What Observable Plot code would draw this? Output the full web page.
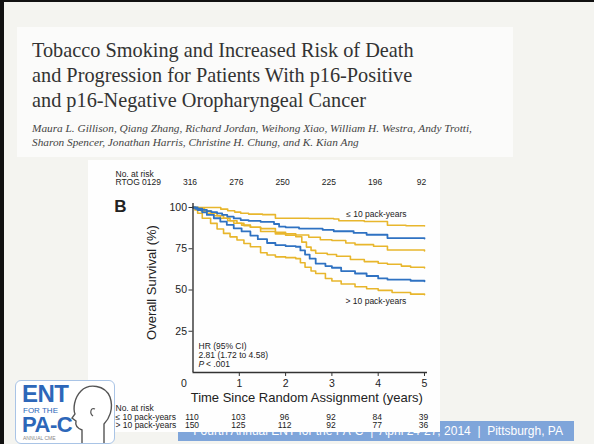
<!DOCTYPE html>
<html>
<head>
<meta charset="utf-8">
<script src="https://cdn.jsdelivr.net/npm/d3@7"></script>
<script src="https://cdn.jsdelivr.net/npm/@observablehq/plot@0.6"></script>
<style>
  html, body { margin: 0; padding: 0; }
  body { width: 594px; height: 444px; position: relative; overflow: hidden; background: #f4f4f0; font-family: "Liberation Sans", Arial, sans-serif; }
  .abs { position: absolute; }
  #title { left: 32px; top: 38px; font-family: "Liberation Serif", "Times New Roman", serif; font-size: 20.3px; line-height: 25px; color: #333; white-space: nowrap; }
  #authors { left: 32px; top: 121px; font-family: "Liberation Serif", "Times New Roman", serif; font-style: italic; font-size: 11.3px; line-height: 14px; color: #444; white-space: nowrap; }
  #footer { left: 178px; top: 421px; width: 396px; height: 20px; background: #7fa5da; }
  #footerText { right: 31px; top: 423px; color: #fff; font-size: 12px; line-height: 16px; white-space: nowrap; }
  #chartPanel { left: 88px; top: 160px; width: 352px; height: 272px; background: #fefefe; }
  #chart { left: 90px; top: 160px; }
  #logo { left: 15px; top: 380px; width: 98px; height: 62px; background: #fff; border: 1.5px solid #a9c4e6; border-radius: 6px; }
</style>
</head>
<body>
<div class="abs" style="left:0;top:0;width:4px;height:444px;background:#111"></div>
<div class="abs" style="left:0;top:0;width:594px;height:2px;background:#111"></div>
<div class="abs" style="left:17px;top:27px;width:496px;height:130px;background:#fbfbfa"></div>
<div id="title" class="abs">Tobacco Smoking and Increased Risk of Death<br>and Progression for Patients With p16-Positive<br>and p16-Negative Oropharyngeal Cancer</div>
<div id="authors" class="abs">Maura L. Gillison, Qiang Zhang, Richard Jordan, Weihong Xiao, William H. Westra, Andy Trotti,<br>Sharon Spencer, Jonathan Harris, Christine H. Chung, and K. Kian Ang</div>
<div id="footer" class="abs"></div>
<div id="footerText" class="abs">Fourth Annual ENT for the PA-C &nbsp;|&nbsp; April 24-27, 2014 &nbsp;|&nbsp; Pittsburgh, PA</div>
<div id="chartPanel" class="abs"></div>
<div id="chart" class="abs"></div>
<div id="logo" class="abs">
  <div class="abs" style="left:6px;top:1px;font:bold 24px/24px 'Liberation Sans',Arial,sans-serif;color:#2d67b9;letter-spacing:-0.5px">ENT</div>
  <div class="abs" style="left:7px;top:25px;font:8px/9px 'Liberation Sans',Arial,sans-serif;color:#2d67b9">FOR THE</div>
  <div class="abs" style="left:6px;top:33px;font:bold 22px/22px 'Liberation Sans',Arial,sans-serif;color:#2d67b9;letter-spacing:-0.5px">PA-C</div>
  <div class="abs" style="left:7px;top:54px;font:5px/6px 'Liberation Sans',Arial,sans-serif;color:#888">ANNUAL CME</div>
  <svg class="abs" style="left:54px;top:2px" width="44" height="60" viewBox="0 0 44 60">
    <path d="M12,60 L12,47 C7,45 5,42 6,38 L2,35 L5,31 C3,26 4,15 11,8 C19,0 35,2 40,14 C44,26 39,36 34,41 L34,60" fill="none" stroke="#555" stroke-width="1.4"/>
    <path d="M25,26 C21,24 19,30 23,33" fill="none" stroke="#555" stroke-width="1.2"/>
  </svg>
</div>
<script>
// ---- data ----
const years = [0, 1, 2, 3, 4, 5];
const riskRTOG = [316, 276, 250, 225, 196, 92];
const riskLe10 = [110, 103, 96, 92, 84, 39];
const riskGt10 = [150, 125, 112, 92, 77, 36];
const yTicks = [25, 50, 75, 100];
const xTicks = [1, 2, 3, 4, 5];

// <= 10 pack-years: survival and 95% CI bounds
const le10Upper = [[0,100],[0.5,100],[0.6,99],[0.75,98],[0.9,97.2],[1.03,96.5],[1.2,96],[1.5,95.7],[1.78,93.5],[2.5,93.3],[3.04,93],[3.15,92],[3.7,91.5],[4.2,89.2],[4.6,88.9],[5,88.8]];
const le10Surv  = [[0,100],[0.1,99.3],[0.2,98.6],[0.3,97.8],[0.4,97.2],[0.52,96.5],[0.63,95.5],[0.74,94.5],[0.88,93.4],[1.03,92.4],[1.2,91.9],[1.46,91.3],[1.75,90],[1.86,88.4],[2.0,88],[2.29,87.2],[2.8,86.5],[3.04,85.6],[3.47,84.6],[3.75,83.5],[4.2,81.5],[5,81.2]];
const le10Lower = [[0,100],[0.08,99],[0.18,97.8],[0.3,96.5],[0.45,95],[0.59,93.5],[0.75,92],[0.88,90.5],[1.05,89.3],[1.24,88],[1.46,87.2],[1.78,85],[2.0,84],[2.22,83.3],[2.5,82],[2.75,80.5],[3.0,80],[3.3,78.5],[3.5,77.5],[3.9,76.5],[4.2,74.2],[5,73.6]];
// > 10 pack-years
const gt10Upper = [[0,100],[0.12,99.2],[0.25,98],[0.38,96.5],[0.52,95],[0.66,93.5],[0.8,92],[0.95,90.5],[1.1,89],[1.24,88],[1.46,85.5],[1.78,84],[2.0,83.2],[2.22,82.3],[2.35,79],[2.45,76],[2.55,74],[2.65,72.3],[2.9,71.5],[3.1,70.5],[3.4,68.5],[3.7,67.2],[4.0,66.2],[4.2,65.6],[4.5,64.5],[4.7,63.8],[5,63.4]];
const gt10Surv  = [[0,100],[0.05,99.2],[0.1,98.5],[0.2,97],[0.3,95.5],[0.45,93.5],[0.59,91.5],[0.73,89.5],[0.88,87.4],[1.05,85.5],[1.24,83],[1.4,80.8],[1.6,78.5],[1.78,77.2],[2.0,76.6],[2.22,76.2],[2.32,74],[2.42,71.5],[2.52,69],[2.65,66],[2.86,64.5],[3.0,63.5],[3.2,61.5],[3.5,60],[3.75,58.5],[4.0,57],[4.2,56.3],[4.7,55.6],[5,55.3]];
const gt10Lower = [[0,100],[0.04,98.5],[0.1,96.5],[0.2,93.5],[0.38,90.4],[0.52,87],[0.66,84.3],[0.8,82.2],[0.95,80.3],[1.1,78.2],[1.24,76.2],[1.46,72.6],[1.6,71.2],[1.78,70.1],[2.0,69.6],[2.22,69],[2.32,66.5],[2.42,63.8],[2.55,61.5],[2.65,60],[2.86,57],[3.0,55.5],[3.2,53.6],[3.5,52],[3.75,50.8],[4.0,49.8],[4.3,48.5],[4.7,47.5],[5,47.1]];

const BLUE = "#2f72c2";
const YELLOW = "#e8b62c";
const INK = "#222";

const toRows = (arr, id) => arr.map(([t, v]) => ({t, v, id}));
const yellowRows = [...toRows(le10Upper, "a"), ...toRows(le10Lower, "b"), ...toRows(gt10Upper, "c"), ...toRows(gt10Lower, "d")];
const blueRows = [...toRows(le10Surv, "e"), ...toRows(gt10Surv, "f")];

const fs = 8.5;
const chart = Plot.plot({
  width: 360, height: 280,
  marginLeft: 102.5, marginTop: 47, marginRight: 23, marginBottom: 68,
  style: {fontFamily: "'Liberation Sans', Arial, sans-serif", color: INK, background: "transparent", overflow: "visible"},
  x: {domain: [0, 5.065]},
  y: {domain: [0, 100]},
  marks: [
    Plot.line(yellowRows, {x: "t", y: "v", z: "id", stroke: YELLOW, strokeWidth: 1.6, curve: "step-after"}),
    Plot.line(blueRows, {x: "t", y: "v", z: "id", stroke: BLUE, strokeWidth: 1.8, curve: "step-after"}),
    Plot.ruleX([0], {y1: 0, y2: 102.5, stroke: "#333", strokeWidth: 1.4}),
    Plot.ruleY([0], {stroke: "#333", strokeWidth: 1.4}),
    Plot.axisY(yTicks, {tickSize: 4, tickPadding: 2, fontSize: 10.5, label: null, stroke: "#333"}),
    Plot.axisX(xTicks, {tickSize: 4, tickPadding: 3, fontSize: 10.5, label: null, stroke: "#333"}),
    Plot.text([0], {x: d => d, frameAnchor: "bottom", dy: 11, dx: -9, text: d => String(d), fontSize: 10.5, lineAnchor: "middle", textAnchor: "middle"}),
    // axis titles
    Plot.text(["Time Since Random Assignment (years)"], {frameAnchor: "bottom", dy: 25.5, dx: -3.5, text: d => d, fontSize: 13, lineAnchor: "middle", textAnchor: "middle"}),
    Plot.text(["Overall Survival (%)"], {frameAnchor: "left", dx: -41, dy: -7.5, text: d => d, fontSize: 13, rotate: -90, lineAnchor: "middle", textAnchor: "middle"}),
    Plot.text(["B"], {frameAnchor: "top-left", dx: -72.5, dy: -0.5, text: d => d, fontSize: 17, fontWeight: "bold", lineAnchor: "middle", textAnchor: "middle"}),
    // top risk table
    Plot.text(["No. at risk"], {frameAnchor: "top-left", dx: -77.5, dy: -33.5, text: d => d, fontSize: fs, lineAnchor: "middle", textAnchor: "start"}),
    Plot.text(["RTOG 0129"], {frameAnchor: "top-left", dx: -77.5, dy: -25.5, text: d => d, fontSize: fs, lineAnchor: "middle", textAnchor: "start"}),
    Plot.text(years, {x: d => d, frameAnchor: "top", dy: -25, dx: -3, text: (d, i) => riskRTOG[i], fontSize: fs, lineAnchor: "middle", textAnchor: "middle"}),
    // bottom risk table
    Plot.text(["No. at risk"], {frameAnchor: "bottom-left", dx: -77.5, dy: 36, text: d => d, fontSize: fs, lineAnchor: "middle", textAnchor: "start"}),
    Plot.text(["≤ 10 pack-years"], {frameAnchor: "bottom-left", dx: -77.5, dy: 44.5, text: d => d, fontSize: fs, lineAnchor: "middle", textAnchor: "start"}),
    Plot.text(["> 10 pack-years"], {frameAnchor: "bottom-left", dx: -77.5, dy: 53, text: d => d, fontSize: fs, lineAnchor: "middle", textAnchor: "start"}),
    Plot.text(years, {x: d => d, frameAnchor: "bottom", dy: 44.5, dx: -1, text: (d, i) => riskLe10[i], fontSize: fs, lineAnchor: "middle", textAnchor: "middle"}),
    Plot.text(years, {x: d => d, frameAnchor: "bottom", dy: 53, dx: -1, text: (d, i) => riskGt10[i], fontSize: fs, lineAnchor: "middle", textAnchor: "middle"}),
    // curve labels
    Plot.text(["≤ 10 pack-years"], {x: 3.96, y: 95.6, text: d => d, fontSize: 8.5, lineAnchor: "middle", textAnchor: "middle"}),
    Plot.text(["> 10 pack-years"], {x: 3.95, y: 43, text: d => d, fontSize: 8.5, lineAnchor: "middle", textAnchor: "middle"}),
    // HR box
    Plot.text(["HR (95% CI)"], {frameAnchor: "bottom-left", dx: 5.5, dy: -26, text: d => d, fontSize: 8.5, lineAnchor: "middle", textAnchor: "start"}),
    Plot.text(["2.81 (1.72 to 4.58)"], {frameAnchor: "bottom-left", dx: 5.5, dy: -17, text: d => d, fontSize: 8.5, lineAnchor: "middle", textAnchor: "start"}),
    Plot.text(["P"], {frameAnchor: "bottom-left", dx: 5.5, dy: -8, text: d => d, fontSize: 8.5, fontStyle: "italic", lineAnchor: "middle", textAnchor: "start"}),
    Plot.text(["< .001"], {frameAnchor: "bottom-left", dx: 13, dy: -8, text: d => d, fontSize: 8.5, lineAnchor: "middle", textAnchor: "start"})
  ]
});
document.getElementById("chart").appendChild(chart);
</script>
</body>
</html>
